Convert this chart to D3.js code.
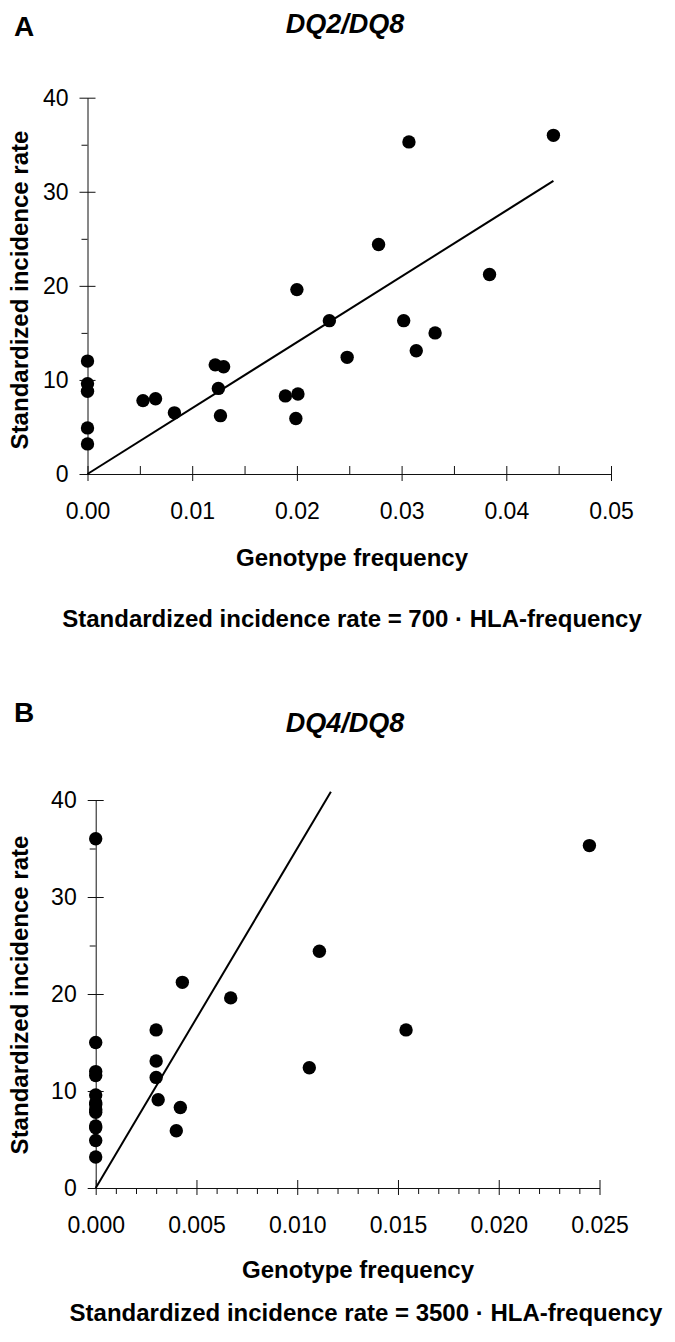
<!DOCTYPE html>
<html>
<head>
<meta charset="utf-8">
<script src="https://cdn.jsdelivr.net/npm/d3@7"></script>
<style>
  body { margin: 0; background: #fff; }
  svg { display: block; }
  text { font-family: "Liberation Sans", Arial, Helvetica, sans-serif; fill: #000; }
</style>
</head>
<body>
<div id="chart"></div>
<script>
// Panel A: DQ2/DQ8 genotype frequency vs standardized incidence rate
var freqA = [0, 0, 0, 0, 0, 0.0053, 0.0065, 0.0083, 0.0122, 0.0130, 0.0125, 0.0127,
             0.0189, 0.0201, 0.0199, 0.0248, 0.0314, 0.0332, 0.0307, 0.0445,
             0.0278, 0.0200, 0.0384, 0.0231, 0.0302];
var rateA = [12.0, 9.6, 8.8, 4.9, 3.2, 7.8, 8.0, 6.5, 11.6, 11.4, 9.1, 6.2,
             8.3, 8.5, 5.9, 12.4, 13.1, 15.0, 35.3, 36.0,
             24.4, 19.6, 21.2, 16.3, 16.3];

// Panel B: DQ4/DQ8
var freqB = [0, 0, 0, 0, 0, 0, 0, 0, 0, 0, 0, 0, 0,
             0.0245, 0.0111, 0.0043, 0.0067, 0.0030, 0.0154, 0.0030, 0.0106,
             0.0030, 0.0031, 0.0042, 0.0040];
var rateB = [36.0, 15.0, 12.0, 11.6, 9.6, 8.8, 8.6, 8.1, 7.8, 6.4, 6.2, 4.9, 3.2,
             35.3, 24.4, 21.2, 19.6, 16.3, 16.3, 13.1, 12.4,
             11.4, 9.1, 8.3, 5.9];

// regression slopes and where the fitted line stops
var slopeA = 700, lineEndA = 0.0445;
var slopeB = 3500, lineEndB = 0.01167;

// ticks
var yTicks = [0, 10, 20, 30, 40];
var yMinor = [5, 15, 25, 35];
var xTicksA = [0, 0.01, 0.02, 0.03, 0.04, 0.05];
var xLabelsA = ["0.00", "0.01", "0.02", "0.03", "0.04", "0.05"];
var xMinorA = [0.005, 0.015, 0.025, 0.035, 0.045];
var xTicksB = [0, 0.005, 0.010, 0.015, 0.020, 0.025];
var xLabelsB = ["0.000", "0.005", "0.010", "0.015", "0.020", "0.025"];
var xMinorB = [0.001, 0.002, 0.003, 0.004, 0.006, 0.007, 0.008, 0.009,
               0.011, 0.012, 0.013, 0.014, 0.016, 0.017, 0.018, 0.019,
               0.021, 0.022, 0.023, 0.024];

var svg = d3.select("#chart").append("svg")
    .attr("width", 675)
    .attr("height", 1342);

function drawPanel(p) {
  var x = d3.scaleLinear().domain([0, p.xMax]).range([p.left, p.right]);
  var y = d3.scaleLinear().domain([0, 40]).range([p.bottom, p.top]);
  var g = svg.append("g");

  // panel letter and title
  g.append("text")
      .attr("x", 14).attr("y", p.letterY)
      .style("font-size", "28px").style("font-weight", "bold")
      .text(p.letter);
  g.append("text")
      .attr("x", 345).attr("y", p.titleY)
      .attr("text-anchor", "middle")
      .style("font-size", "27px").style("font-weight", "bold").style("font-style", "italic")
      .text(p.title);

  // x axis, major ticks crossing the line
  var xAxis = g.append("g")
      .attr("transform", "translate(0," + p.bottom + ")")
      .call(d3.axisBottom(x).tickValues(p.xTicks).tickSizeOuter(0)
        .tickFormat(function (d, i) { return p.xLabels[i]; }));
  xAxis.selectAll(".tick line").attr("y1", -8).attr("y2", 7);
  xAxis.selectAll(".tick text")
      .attr("y", 45).attr("dy", null)
      .style("font-size", "23px");

  // x minor ticks
  var xMinorAxis = g.append("g")
      .attr("transform", "translate(0," + p.bottom + ")")
      .call(d3.axisBottom(x).tickValues(p.xMinor).tickSizeOuter(0).tickFormat(""));
  xMinorAxis.select(".domain").remove();
  xMinorAxis.selectAll(".tick line").attr("y1", p.xMinorUp).attr("y2", p.xMinorDown);

  // y axis
  var yAxis = g.append("g")
      .attr("transform", "translate(" + p.left + ",0)")
      .call(d3.axisLeft(y).tickValues(yTicks).tickSizeOuter(0).tickPadding(13));
  yAxis.selectAll(".tick line").attr("x1", -8).attr("x2", 8);
  yAxis.selectAll(".tick text").style("font-size", "23px");

  var yMinorAxis = g.append("g")
      .attr("transform", "translate(" + p.left + ",0)")
      .call(d3.axisLeft(y).tickValues(yMinor).tickSizeOuter(0).tickSize(6).tickFormat(""));
  yMinorAxis.select(".domain").remove();

  g.selectAll(".domain, .tick line").attr("stroke", "#111").attr("stroke-width", 1);
  g.selectAll(".tick text").attr("font-family", null);

  // axis labels
  g.append("text")
      .attr("transform", "translate(28," + p.yLabelY + ") rotate(-90)")
      .attr("text-anchor", "middle")
      .style("font-size", "24px").style("font-weight", "bold")
      .text("Standardized incidence rate");
  g.append("text")
      .attr("x", p.xLabelX).attr("y", p.xLabelBase)
      .attr("text-anchor", "middle")
      .style("font-size", "24px").style("font-weight", "bold")
      .text("Genotype frequency");
  g.append("text")
      .attr("x", p.eqX).attr("y", p.eqBase)
      .attr("text-anchor", "middle")
      .style("font-size", "24px").style("font-weight", "bold")
      .text("Standardized incidence rate = " + p.slope + " \u00b7 HLA-frequency");

  // fitted line
  var line = d3.line()
      .x(function (d) { return x(d); })
      .y(function (d) { return y(d * p.slope); });
  g.append("path")
      .datum([0, p.lineEnd])
      .attr("d", line)
      .attr("fill", "none")
      .attr("stroke", "#000")
      .attr("stroke-width", 2);

  // points
  g.append("g")
    .selectAll("circle")
    .data(p.freq)
    .enter()
    .append("circle")
      .attr("cx", function (d) { return x(d); })
      .attr("cy", function (d, i) { return y(p.rate[i]); })
      .attr("r", 6.7)
      .style("fill", "#000");
}

drawPanel({
  letter: "A", letterY: 36, title: "DQ2/DQ8", titleY: 33,
  freq: freqA, rate: rateA, slope: slopeA, lineEnd: lineEndA,
  xMax: 0.05, xTicks: xTicksA, xLabels: xLabelsA, xMinor: xMinorA,
  xMinorUp: -8, xMinorDown: 0,
  left: 87.5, right: 611, top: 97.7, bottom: 474,
  yLabelY: 290, xLabelX: 352, xLabelBase: 566, eqX: 352, eqBase: 627
});

drawPanel({
  letter: "B", letterY: 722, title: "DQ4/DQ8", titleY: 732,
  freq: freqB, rate: rateB, slope: slopeB, lineEnd: lineEndB,
  xMax: 0.025, xTicks: xTicksB, xLabels: xLabelsB, xMinor: xMinorB,
  xMinorUp: 0, xMinorDown: 6,
  left: 95.7, right: 599.5, top: 800, bottom: 1188,
  yLabelY: 995, xLabelX: 358, xLabelBase: 1278, eqX: 366, eqBase: 1321
});
</script>
</body>
</html>
